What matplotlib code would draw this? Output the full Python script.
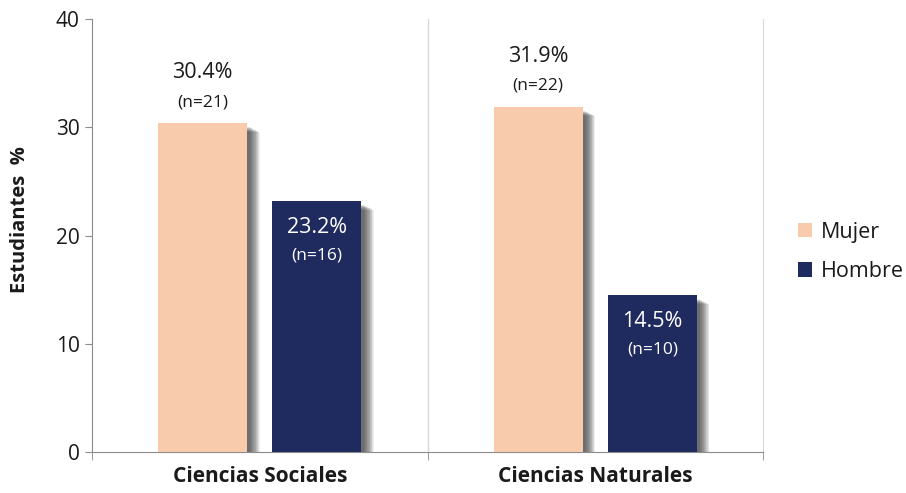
import numpy as np
import matplotlib.pyplot as plt
import matplotlib.patheffects as pe
from matplotlib.patches import Patch

plt.rcParams['font.family'] = ['Open Sans', 'DejaVu Sans']

categories = ['Ciencias Sociales', 'Ciencias Naturales']
series_names = ['Mujer', 'Hombre']
mujer_pct = [30.4, 31.9]
mujer_n = [21, 22]
hombre_pct = [23.2, 14.5]
hombre_n = [16, 10]
yticks = [0, 10, 20, 30, 40]

mujer_color = '#F8CBAD'
hombre_color = '#1F2A5E'
axis_gray = '#8C8C8C'
text_color = '#1A1A1A'

# soft drop shadow: many small offset copies that fade outwards
shadow = [pe.SimplePatchShadow(offset=(2.0 + 0.5 * i, -3.0 - 0.25 * i),
                               shadow_rgbFace='#333333', alpha=0.075)
          for i in range(15)] + [pe.Normal()]

fig = plt.figure(figsize=(9.06, 4.93), dpi=100)
ax = fig.add_axes([92 / 906, 41 / 493, (763 - 92) / 906, (452 - 19) / 493])

x = np.arange(len(categories))
width = 0.265
off = 0.17

bars_m = ax.bar(x - off, mujer_pct, width, color=mujer_color, zorder=3)
bars_h = ax.bar(x + off, hombre_pct, width, color=hombre_color, zorder=3)
for b in list(bars_m) + list(bars_h):
    b.set_path_effects(shadow)

# labels above the Mujer bars
for xi, v, n in zip(x - off, mujer_pct, mujer_n):
    ax.annotate(f'{v}%', (xi, v), xytext=(0, 36), textcoords='offset points',
                ha='center', va='center', fontsize=15.5, color=text_color, zorder=5)
    ax.annotate(f'(n={n})', (xi, v), xytext=(0, 15), textcoords='offset points',
                ha='center', va='center', fontsize=12.5, color=text_color, zorder=5)

# labels inside the Hombre bars
for xi, v, n in zip(x + off, hombre_pct, hombre_n):
    ax.annotate(f'{v}%', (xi, v), xytext=(0, -19), textcoords='offset points',
                ha='center', va='center', fontsize=15.5, color='white', zorder=5)
    ax.annotate(f'(n={n})', (xi, v), xytext=(0, -39), textcoords='offset points',
                ha='center', va='center', fontsize=12.5, color='white', zorder=5)

ax.set_xlim(-0.5, len(categories) - 0.5)
ax.set_ylim(0, 40)
ax.set_yticks(yticks)
ax.set_xticks(x)
ax.set_xticklabels(categories, fontsize=15, fontweight='bold', color=text_color)
ax.set_xticks(np.arange(len(categories) + 1) - 0.5, minor=True)

ax.tick_params(axis='y', direction='out', length=5, color=axis_gray,
               labelsize=15, labelcolor=text_color, pad=4)
ax.tick_params(axis='x', which='major', length=0, pad=10)
ax.tick_params(axis='x', which='minor', direction='out', length=6, color=axis_gray)

ax.spines['top'].set_visible(False)
ax.spines['left'].set_color(axis_gray)
ax.spines['bottom'].set_color(axis_gray)
ax.spines['right'].set_color('#D9D9D9')
ax.axvline(0.5, color='#D9D9D9', lw=1, zorder=1)

fig.text(20 / 906, 1 - 220 / 493, 'Estudiantes  %', rotation=90, ha='center',
         va='center', fontsize=14.5, fontweight='bold', color=text_color)

handles = [Patch(facecolor=mujer_color), Patch(facecolor=hombre_color)]
fig.legend(handles, series_names, loc='center left',
           bbox_to_anchor=(798 / 906, 1 - 252 / 493), frameon=False,
           fontsize=15.5, handlelength=0.65, handleheight=0.65, handletextpad=0.4,
           labelspacing=0.85, borderpad=0, borderaxespad=0,
           labelcolor=text_color)

fig.savefig('out.png', dpi=100)
